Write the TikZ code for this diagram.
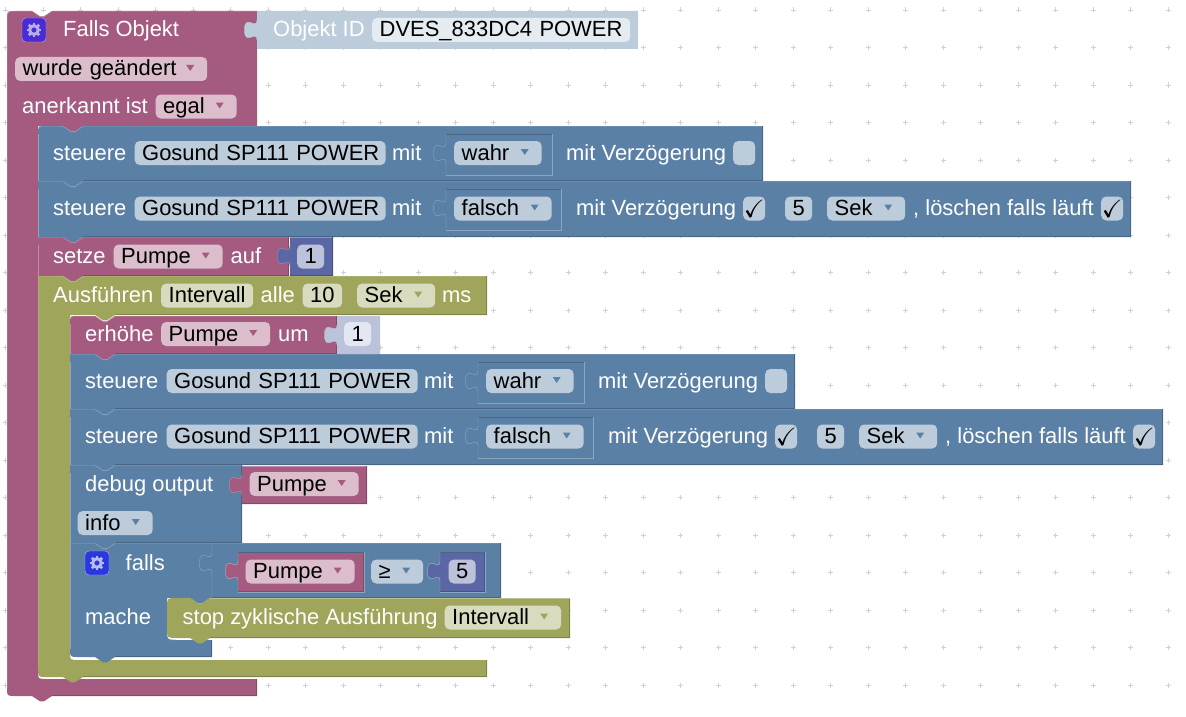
\documentclass[tikz,border=0pt]{standalone}
\usepackage{amssymb}
\usepackage{fontspec}
\setmainfont{Liberation Sans}
\usetikzlibrary{positioning}
\definecolor{purple block}{HTML}{A55B80}
\definecolor{purple field}{HTML}{DBBDCC}
\definecolor{purple light}{HTML}{C08CA6}
\definecolor{purple dark}{HTML}{844966}
\definecolor{steel block}{HTML}{5B80A5}
\definecolor{steel field}{HTML}{BDCCDB}
\definecolor{steel light}{HTML}{8CA6C0}
\definecolor{steel dark}{HTML}{496684}
\definecolor{olive block}{HTML}{9FA55B}
\definecolor{olive field}{HTML}{D8DBBD}
\definecolor{olive light}{HTML}{BBC08C}
\definecolor{olive dark}{HTML}{7F8449}
\definecolor{indigo block}{HTML}{5B67A5}
\definecolor{indigo field}{HTML}{BDC2DB}
\definecolor{indigo light}{HTML}{8C95C0}
\definecolor{indigo dark}{HTML}{495284}
\definecolor{mist block}{HTML}{BDCCDB}
\definecolor{mist field}{HTML}{E4EBF1}
\definecolor{mist light}{HTML}{BDCCDB}
\definecolor{mist dark}{HTML}{BDCCDB}
\definecolor{lilac block}{HTML}{BDC2DB}
\definecolor{lilac field}{HTML}{E4E7F1}
\definecolor{lilac light}{HTML}{BDC2DB}
\definecolor{lilac dark}{HTML}{BDC2DB}
\definecolor{trigger icon}{HTML}{4A2CD2}
\definecolor{trigger gear}{HTML}{B4AEEA}
\definecolor{falls icon}{HTML}{2A38E0}
\definecolor{falls gear}{HTML}{B4BCF0}
\colorlet{grid colour}{black!18}
\newcommand\blockfont{\fontsize{21.95}{24}\selectfont}
\newcommand\tick{\raisebox{-1.5pt}{\fontsize{25}{25}\selectfont$\checkmark$}}
% Notch of a stacked block, walking right or left along its edge
\newcommand\nr{-- ++(8,5.3) -- ++(4,0) -- ++(8,-5.3)}
\newcommand\nl{-- ++(-8,5.3) -- ++(-4,0) -- ++(-8,-5.3)}
% Puzzle tab of a value block, walking up its left edge
\newcommand\tabup{.. controls +(0,-11) and +(0,17) .. ++(-12.5,-10)
    .. controls +(0,-17) and +(0,11) .. ++(12.5,-10)}
\tikzset{
    % All text sits on the same line inside a row
    lbl/.style={anchor=west, text=white, inner sep=0,
        text height=18.5pt, text depth=4.5pt},
    fld/.style 2 args={anchor=west, text=black, fill=#2 field,
        rounded corners=5pt, inner xsep=0, inner ysep=0.5pt,
        text height=18.5pt, text depth=4.5pt, text width=#1pt, align=left,
        execute at begin node=\hspace*{7.5pt}},
    dfld/.style 2 args={fld={#1}{#2}, path picture={
        \fill [#2 block, sharp corners]
            ([xshift=-21pt,yshift=4pt]path picture bounding box.east)
            -- ++(8,0) -- ++(-4,6) -- cycle;}},
    chk/.style={anchor=west, text=black, fill=steel field,
        rounded corners=5pt, inner sep=0,
        minimum width=22pt, minimum height=24pt},
    icon/.style={fill=#1 icon, draw=#1 gear, rounded corners=4pt,
        minimum size=24pt, inner sep=0},
    every node/.style={font=\blockfont},
}
% A block of a stack: top notch, bottom tab
\newcommand\rowedges[5]{%
    \draw [#5 light] (#1,#2+0.5) -- ++(25,0) \nr -- (#3,#2+0.5);
    \draw [#5 light] (#1+0.5,#2+8) -- (#1+0.5,#4);
    \draw [#5 dark] (#3-0.5,#2) -- (#3-0.5,#4-0.5) -- (#1+45,#4-0.5);
}
\newcommand\rowblock[5]{%
    \fill [#5 block] (#1,#2) -- ++(25,0) \nr -- (#3,#2) -- (#3,#4)
        -- (#1+45,#4) \nl -- (#1,#4) -- cycle;
    \rowedges{#1}{#2}{#3}{#4}{#5}
}
\newcommand\firstblock[5]{%
    \fill [#5 block] (#1+8,#2) -- (#1+25,#2) \nr -- (#3,#2) -- (#3,#4)
        -- (#1+45,#4) \nl -- (#1,#4) -- (#1,#2+8)
        .. controls (#1,#2) .. (#1+8,#2) -- cycle;
    \rowedges{#1}{#2}{#3}{#4}{#5}
}
% A value block with its tab on the left
\newcommand\valblock[5]{%
    \fill [#5 block] (#1,#2) -- (#3,#2) -- (#3,#4) -- (#1,#4)
        -- (#1,#2+29) \tabup -- cycle;
    \draw [#5 light] (#1,#2+0.5) -- (#3,#2+0.5);
    \draw [#5 light] (#1,#2+29) \tabup;
    \draw [#5 dark] (#3-0.5,#2) -- (#3-0.5,#4-0.5) -- (#1,#4-0.5);
}
% The outline of the input that a value block sits in
\newcommand\socket[4]{%
    \draw [steel dark] (#1,#2) -- (#3,#2);
    \draw [steel light] (#1,#4) -- (#1,#2+29) \tabup -- (#1,#2);
    \draw [steel light] (#3,#2) -- (#3,#4) -- (#1,#4);
}
\newcommand\gearicon[4]{%
    \node (#1) [icon=#4] at (#2,#3) {};
    \draw [line width=3pt, #4 gear] (#2,#3) circle (4.3);
    \foreach \a in {0,45,...,315}
        \draw [line width=2.8pt, #4 gear] (#2,#3) ++(\a:5) -- ++(\a:2.4);
}

\begin{document}
\begin{tikzpicture}[x=1pt, y=-1pt]

\useasboundingbox [fill=white] (0,0) rectangle (1186,717);

% Workspace dots
\foreach \i in {0,...,31}
    \foreach \j in {0,...,18}
        \draw [grid colour, line width=0.9pt]
            (5.8+37.5*\i-2.5,10+37.5*\j) -- ++(5,0)
            (5.8+37.5*\i,10+37.5*\j-2.5) -- ++(0,5);

% Outer trigger block
\fill [purple block] (7,19) .. controls (7,11) .. (15,11) -- (32,11) \nr
    -- (257,11) -- (257,126) -- (83,126) \nl -- (38,126) -- (38,671)
    .. controls (38,679) .. (46,679) -- (257,679) -- (257,696)
    -- (52,696) \nl -- (15,696) .. controls (7,696) .. (7,688) -- cycle;
\draw [purple light] (7.5,688) -- (7.5,19) .. controls (7.5,11.5) .. (15,11.5)
    -- (32,11.5) \nr -- (257,11.5);
\draw [purple dark] (256.5,679) -- (256.5,695.5) -- (52,695.5);

\valblock{257}{11}{638}{49}{mist}

\firstblock{38}{126}{763}{181}{steel}
\socket{446}{134}{552}{175}
\rowblock{38}{181}{1131}{237}{steel}
\socket{446}{189}{561}{230}
\rowblock{38}{237}{289}{276}{purple}
\valblock{290}{237}{333}{276}{indigo}

% Interval block
\fill [olive block] (38,276) -- (63,276) \nr -- (487,276) -- (487,315)
    -- (115,315) \nl -- (70,315) -- (70,652)
    .. controls (70,660) .. (78,660) -- (487,660) -- (487,677)
    -- (83,677) \nl -- (46,677) .. controls (38,677) .. (38,669) -- cycle;
\draw [olive light] (38.5,669) -- (38.5,276.5) -- (63,276.5) \nr -- (487,276.5);
\draw [olive dark] (486.5,276) -- (486.5,314.5) -- (115,314.5);
\draw [olive dark] (486.5,660) -- (486.5,676.5) -- (83,676.5);

\firstblock{70}{316}{337}{354}{purple}
\valblock{337}{316}{380}{354}{lilac}
\rowblock{70}{354}{795}{409}{steel}
\socket{478}{362}{584}{403}
\rowblock{70}{409}{1163}{465}{steel}
\socket{478}{417}{593}{458}
\rowblock{70}{465}{242}{543}{steel}
\valblock{242}{466}{367}{504}{purple}

% Condition block
\fill [steel block] (70,543) -- (95,543) \nr -- (501,543) -- (501,598)
    -- (210,598) \nl -- (167,598) -- (167,630)
    .. controls (167,640) .. (177,640) -- (212,640) -- (212,657)
    -- (115,657) \nl -- (78,657) .. controls (70,657) .. (70,649) -- cycle;
\draw [steel light] (70,543.5) -- (95,543.5) \nr -- (501,543.5);
\draw [steel light] (70.5,649) -- (70.5,543);
\draw [steel light] (177,640) .. controls (167,640) .. (167,630);
\draw [steel light] (212,598) -- (212,573) \tabup -- (212,543);
\draw [steel dark] (500.5,543) -- (500.5,597.5) -- (212,597.5);
\draw [steel dark] (211.5,640) -- (211.5,656.5) -- (115,656.5);
\valblock{238}{552}{364}{592}{purple}
\socket{238}{552}{364}{592}
\valblock{440}{552}{485}{592}{indigo}
\socket{440}{552}{485}{592}

% Stop block
\fill [olive block] (177,598) -- (190,598) \nr -- (570,598) -- (570,638)
    -- (210,638) \nl -- (177,638) .. controls (167,638) .. (167,628)
    -- (167,608) .. controls (167,598) .. (177,598) -- cycle;
\draw [olive dark] (569.5,598) -- (569.5,637.5) -- (210,637.5);
\draw [olive light] (210,598.5) -- (570,598.5);

\gearicon{obj gear}{34}{30}{trigger}
\gearicon{if gear}{97}{563}{falls}

\path (0,30)
    +(63,0) node (falls obj) [lbl] {Falls Objekt}
    +(273,0) node (obj id) [lbl] {Objekt ID}
    +(372,0) node (obj name) [fld={258}{mist}] {DVES\_833DC4 POWER};
\path (0,69)
    +(15,0) node (trigger) [dfld={192}{purple}] {wurde geändert};
\path (0,106.5)
    +(22,0) node (ack lab) [lbl] {anerkannt ist}
    +(155.5,0) node (ack) [dfld={81}{purple}] {egal};

\path (0,153)
    +(53,0) node (set a lab) [lbl] {steuere}
    +(134.5,0) node (set a id) [fld={251}{steel}] {Gosund SP111 POWER}
    +(392,0) node (set a mit) [lbl] {mit}
    +(454,0) node (set a val) [dfld={87.5}{steel}] {wahr}
    +(566,0) node (set a delay) [lbl] {mit Verzögerung}
    +(733,0) node (set a chk) [chk] {};
\path (0,208.5)
    +(53,0) node (set b lab) [lbl] {steuere}
    +(134.5,0) node (set b id) [fld={251}{steel}] {Gosund SP111 POWER}
    +(392,0) node (set b mit) [lbl] {mit}
    +(454,0) node (set b val) [dfld={97.5}{steel}] {falsch}
    +(576,0) node (set b delay) [lbl] {mit Verzögerung}
    +(743,0) node (set b chk) [chk] {\tick}
    +(785,0) node (set b num) [fld={27}{steel}] {5}
    +(827,0) node (set b unit) [dfld={78}{steel}] {Sek}
    +(913,0) node (set b clear) [lbl] {, löschen falls läuft}
    +(1101,0) node (set b clr) [chk] {\tick};

\path (0,256.5)
    +(53,0) node (pump lab) [lbl] {setze}
    +(113.5,0) node (pump var) [dfld={109}{purple}] {Pumpe}
    +(230.5,0) node (pump auf) [lbl] {auf}
    +(297,0) node (pump val) [fld={27}{indigo}] {1};
\path (0,295.5)
    +(53,0) node (run lab) [lbl] {Ausführen}
    +(161,0) node (run name) [fld={92}{olive}] {Intervall}
    +(260.5,0) node (run alle) [lbl] {alle}
    +(302.5,0) node (run num) [fld={39.5}{olive}] {10}
    +(357,0) node (run unit) [dfld={78}{olive}] {Sek}
    +(442,0) node (run ms) [lbl] {ms};

\path (0,334)
    +(85,0) node (inc lab) [lbl] {erhöhe}
    +(161,0) node (inc var) [dfld={109}{purple}] {Pumpe}
    +(278,0) node (inc um) [lbl] {um}
    +(344,0) node (inc val) [fld={27}{lilac}] {1};

\path (0,381)
    +(85,0) node (set c lab) [lbl] {steuere}
    +(166.5,0) node (set c id) [fld={251}{steel}] {Gosund SP111 POWER}
    +(424,0) node (set c mit) [lbl] {mit}
    +(486,0) node (set c val) [dfld={87.5}{steel}] {wahr}
    +(598,0) node (set c delay) [lbl] {mit Verzögerung}
    +(765,0) node (set c chk) [chk] {};
\path (0,436.5)
    +(85,0) node (set d lab) [lbl] {steuere}
    +(166.5,0) node (set d id) [fld={251}{steel}] {Gosund SP111 POWER}
    +(424,0) node (set d mit) [lbl] {mit}
    +(486,0) node (set d val) [dfld={97.5}{steel}] {falsch}
    +(608,0) node (set d delay) [lbl] {mit Verzögerung}
    +(775,0) node (set d chk) [chk] {\tick}
    +(817,0) node (set d num) [fld={27}{steel}] {5}
    +(859,0) node (set d unit) [dfld={78}{steel}] {Sek}
    +(945,0) node (set d clear) [lbl] {, löschen falls läuft}
    +(1133,0) node (set d clr) [chk] {\tick};

\path (0,484)
    +(85,0) node (debug lab) [lbl] {debug output}
    +(249.5,0) node (debug var) [dfld={109}{purple}] {Pumpe};
\path (0,523)
    +(77.5,0) node (debug lvl) [dfld={75}{steel}] {info};

\path (0,563) +(125.5,0) node (if lab) [lbl] {falls};
\path (0,571.5)
    +(245.5,0) node (if var) [dfld={109}{purple}] {Pumpe}
    +(371,0) node (if op) [dfld={52}{steel}] {≥}
    +(448.5,0) node (if val) [fld={27}{indigo}] {5};
\path (0,617.5)
    +(85,0) node (do lab) [lbl] {mache}
    +(182.5,0) node (stop lab) [lbl] {stop zyklische Ausführung}
    +(444.5,0) node (stop name) [dfld={116.5}{olive}] {Intervall};

\end{tikzpicture}
\end{document}
